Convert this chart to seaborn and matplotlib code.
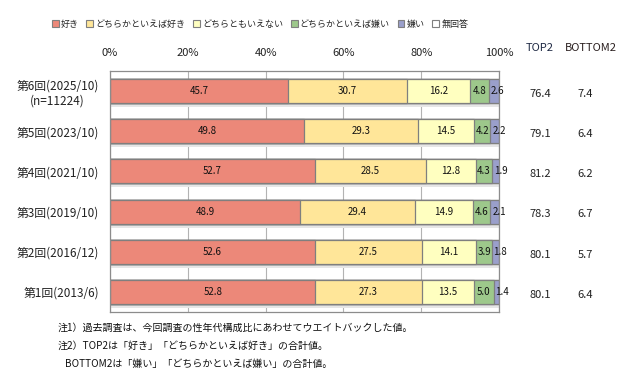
import numpy as np
import pandas as pd
import seaborn as sns
import matplotlib.pyplot as plt
from matplotlib.patches import Patch
from matplotlib.transforms import blended_transform_factory

# survey rounds (top to bottom)
rounds = ["第6回(2025/10)\n(n=11224)", "第5回(2023/10)", "第4回(2021/10)",
          "第3回(2019/10)", "第2回(2016/12)", "第1回(2013/6)"]

like = [45.7, 49.8, 52.7, 48.9, 52.6, 52.8]
rather_like = [30.7, 29.3, 28.5, 29.4, 27.5, 27.3]
neutral = [16.2, 14.5, 12.8, 14.9, 14.1, 13.5]
rather_dislike = [4.8, 4.2, 4.3, 4.6, 3.9, 5.0]
dislike = [2.6, 2.2, 1.9, 2.1, 1.8, 1.4]
no_answer = [0.0, 0.0, 0.0, 0.0, 0.0, 0.0]

top2 = [76.4, 79.1, 81.2, 78.3, 80.1, 80.1]
bottom2 = [7.4, 6.4, 6.2, 6.7, 5.7, 6.4]

names = ["好き", "どちらかといえば好き", "どちらともいえない", "どちらかといえば嫌い", "嫌い", "無回答"]
colors = ["#EC8879", "#FFE699", "#FFFFC0", "#9DC88B", "#9A9FCB", "#FFFFFF"]
edge = "#7F7F7F"

sns.set_style("white")
plt.rcParams['font.family'] = ['Noto Sans CJK JP', 'DejaVu Sans']

fig = plt.figure(figsize=(6.26, 3.78), dpi=100)
ax = fig.add_axes([110 / 626, 66 / 378, 389 / 626, 241 / 378])

segments = [like, rather_like, neutral, rather_dislike, dislike, no_answer]
cum = np.cumsum(np.array(segments), axis=0)

# light drop shadow under each bar
sns.barplot(x=cum[-1], y=rounds, orient="h", color="#E6E6E6", saturation=1,
            width=0.6, linewidth=0, errorbar=None, ax=ax)
for p in ax.patches:
    p.set_y(p.get_y() + 0.1)

# stacked bars: draw cumulative totals from the outside in
for i in reversed(range(len(segments))):
    sns.barplot(x=cum[i], y=rounds, orient="h", color=colors[i], saturation=1,
                edgecolor=edge, linewidth=0.9, width=0.6, errorbar=None, ax=ax)

# value labels inside bars
for i in range(4):
    for j, v in enumerate(segments[i]):
        ax.text(cum[i][j] - v / 2, j, f"{v:.1f}", ha="center", va="center",
                fontsize=7, color="#111111")
for j, v in enumerate(dislike):
    ax.text(cum[3][j] + 0.5, j, f"{v:.1f}", ha="left", va="center",
            fontsize=7, color="#111111")

ax.set_xlim(0, 100)
ax.set_ylim(5.5, -0.5)
ax.set_xlabel("")
ax.set_ylabel("")
ax.xaxis.tick_top()
ax.set_xticks([0, 20, 40, 60, 80, 100])
ax.set_xticklabels(["0%", "20%", "40%", "60%", "80%", "100%"])
ax.tick_params(axis="x", length=0, pad=9, labelsize=8, colors="#222222")
ax.tick_params(axis="y", length=0, pad=8, labelsize=8.5, colors="#222222")
for lab in ax.get_yticklabels():
    lab.set_multialignment("center")
ax.grid(axis="x", color="#B3B3B3", linewidth=0.8)
ax.grid(axis="y", visible=False)
ax.set_axisbelow(True)
for s in ax.spines.values():
    s.set_color("#8C8C8C")
    s.set_linewidth(0.9)

# TOP2 / BOTTOM2 columns
tr = blended_transform_factory(fig.transFigure, ax.transData)
fig.text(540 / 626, 1 - 48 / 378, "TOP2", ha="center", va="center", fontsize=8, color="#1F2A44")
fig.text(591 / 626, 1 - 48 / 378, "BOTTOM2", ha="center", va="center", fontsize=8, color="#2A1F1F")
for j in range(len(rounds)):
    ax.text(540 / 626, j + 0.07, f"{top2[j]:.1f}", transform=tr, ha="center", va="center",
            fontsize=8, color="#222222", clip_on=False)
    ax.text(585.5 / 626, j + 0.07, f"{bottom2[j]:.1f}", transform=tr, ha="center", va="center",
            fontsize=8, color="#222222", clip_on=False)

# legend
handles = [Patch(facecolor=c, edgecolor=edge, linewidth=0.8) for c in colors]
fig.legend(handles, names, loc="center", bbox_to_anchor=(260 / 626, 1 - 24 / 378), ncol=6,
           frameon=False, fontsize=6.5, handlelength=0.75, handleheight=0.75,
           handletextpad=0.25, columnspacing=0.85, borderpad=0)

# notes
fig.text(58 / 626, 1 - 328 / 378, "注1）過去調査は、今回調査の性年代構成比にあわせてウエイトバックした値。",
         ha="left", va="center", fontsize=7.2, color="#111111")
fig.text(58 / 626, 1 - 346 / 378, "注2）TOP2は「好き」「どちらかといえば好き」の合計値。",
         ha="left", va="center", fontsize=7.2, color="#111111")
fig.text(65 / 626, 1 - 364 / 378, "BOTTOM2は「嫌い」「どちらかといえば嫌い」の合計値。",
         ha="left", va="center", fontsize=7.2, color="#111111")

fig.savefig("out.png", dpi=100)
